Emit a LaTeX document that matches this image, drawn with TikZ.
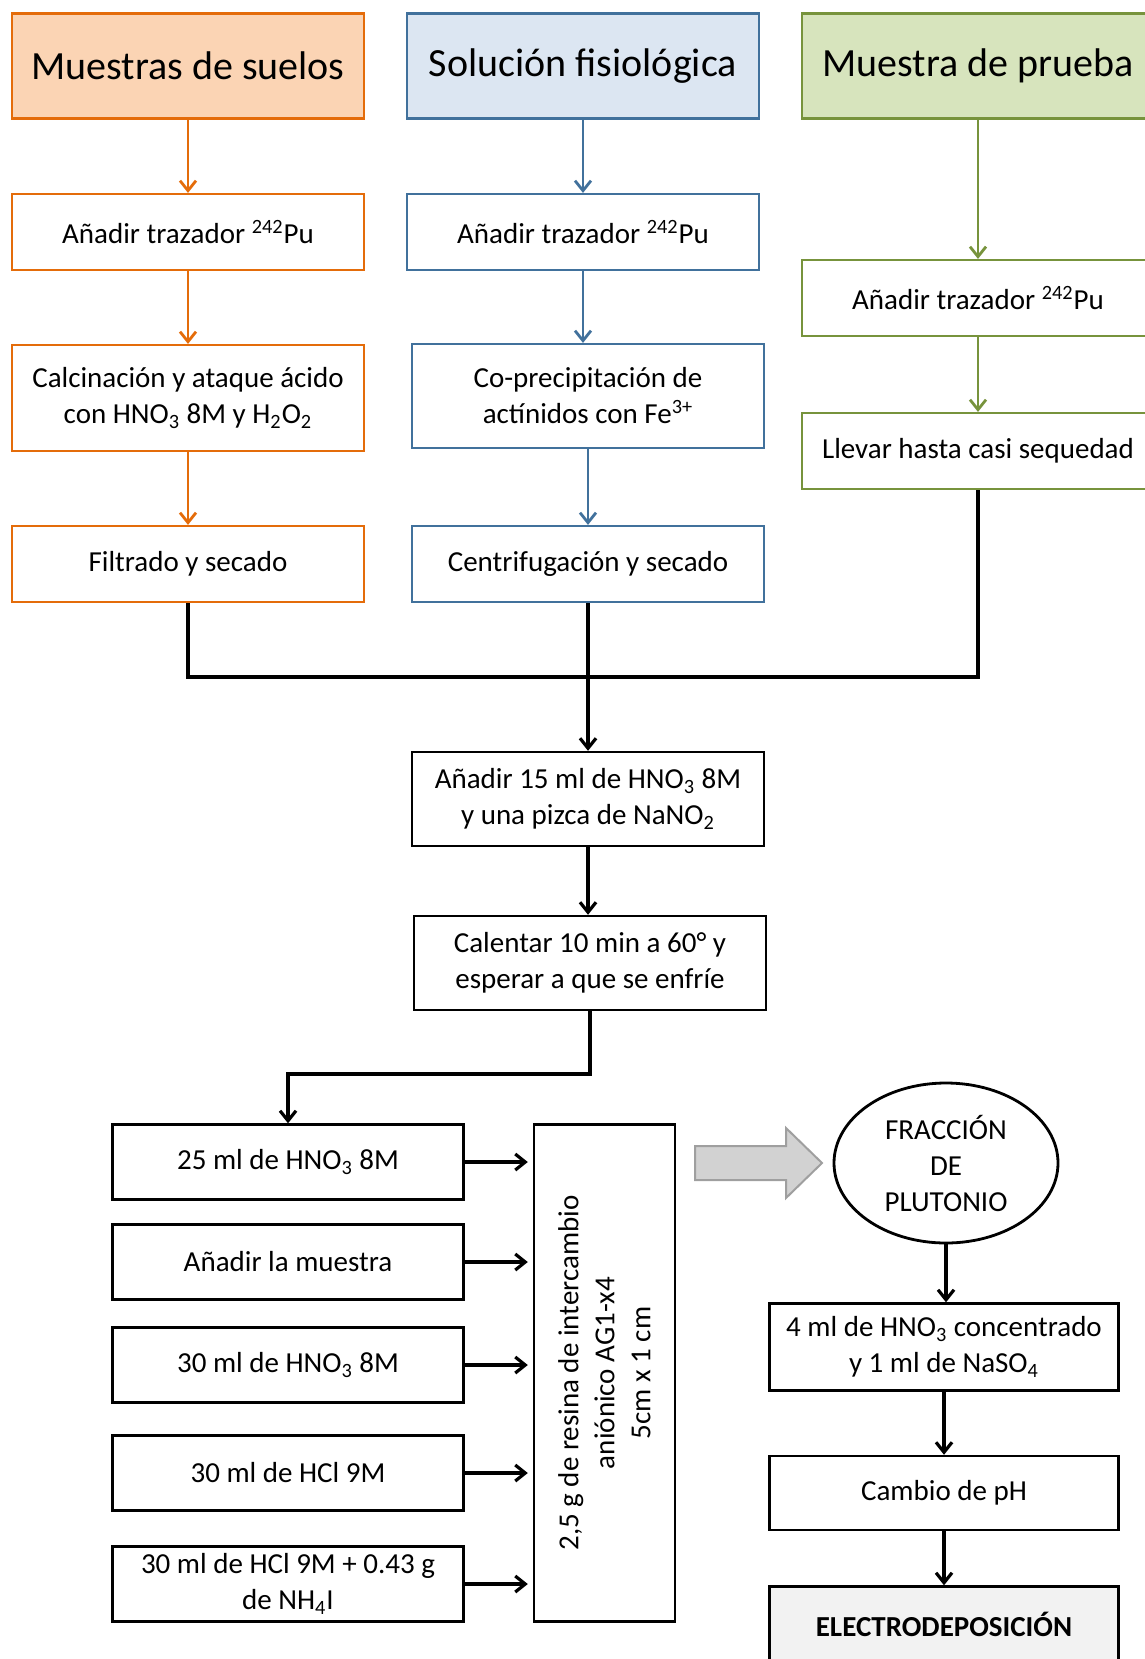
\documentclass[tikz,border=0pt]{standalone}
\usepackage{fontspec}
\setmainfont{Carlito}
\usetikzlibrary{shapes.geometric,arrows.meta}

\definecolor{naranja}{HTML}{E46C0A}
\definecolor{naranjaclaro}{HTML}{FBD4B4}
\definecolor{azul}{HTML}{41719C}
\definecolor{azulclaro}{HTML}{DCE6F2}
\definecolor{verde}{HTML}{77933C}
\definecolor{verdeclaro}{HTML}{D7E4BD}

\begin{document}
\begin{tikzpicture}[
                x=0.5pt, y=-0.5pt,
                every node/.style={align=center,font=\fontsize{14.5}{18}\selectfont},
                caja/.style={draw,line width=1.1pt,minimum width=176pt,minimum height=38pt},
                titulo/.style={caja,minimum height=52.5pt,font=\fontsize{20}{24}\selectfont},
                negra/.style={draw,line width=1.2pt,minimum width=175.5pt,minimum height=37.5pt},
                flecha/.style={-{Straight Barb[length=5pt,width=8pt]},line width=1.4pt},
                flechanegra/.style={-{Straight Barb[length=5pt,width=8pt]},line width=1.6pt}
            ]
            \useasboundingbox (0,0) rectangle (1145,1659);

            % columna suelos
            \node[titulo,draw=naranja,fill=naranjaclaro] (suelos) at (188,66) {Muestras de suelos};
            \node[caja,draw=naranja] (traz1) at (188,232) {Añadir trazador \textsuperscript{242}Pu};
            \node[caja,draw=naranja,minimum height=53pt] (calc) at (188,398)
                {Calcinación y ataque ácido\\con HNO\textsubscript{3} 8M y H\textsubscript{2}O\textsubscript{2}};
            \node[caja,draw=naranja] (filtrado) at (188,564) {Filtrado y secado};

            % columna solucion
            \node[titulo,draw=azul,fill=azulclaro] (fisio) at (583,66) {Solución fisiológica};
            \node[caja,draw=azul] (traz2) at (583,232) {Añadir trazador \textsuperscript{242}Pu};
            \node[caja,draw=azul,minimum height=52pt] (coprec) at (588,396)
                {Co-precipitación de\\actínidos con Fe\textsuperscript{3+}};
            \node[caja,draw=azul] (centrif) at (588,564) {Centrifugación y secado};

            % columna prueba
            \node[titulo,draw=verde,fill=verdeclaro] (prueba) at (978,66) {Muestra de prueba};
            \node[caja,draw=verde] (traz3) at (978,298) {Añadir trazador \textsuperscript{242}Pu};
            \node[caja,draw=verde] (llevar) at (978,451) {Llevar hasta casi sequedad};

            \draw[flecha,naranja] (suelos) -- (traz1);
            \draw[flecha,naranja] (traz1) -- (calc);
            \draw[flecha,naranja] (calc) -- (filtrado);
            \draw[flecha,azul] (fisio.south) -- (traz2.north);
            \draw[flecha,azul] (traz2.south) -- (traz2.south |- coprec.north);
            \draw[flecha,azul] (coprec) -- (centrif);
            \draw[flecha,verde] (prueba) -- (traz3);
            \draw[flecha,verde] (traz3) -- (llevar);

            % union
            \coordinate (unionIzq) at (188,677);
            \coordinate (unionDer) at (978,677);
            \draw[line width=1.6pt] (filtrado.south) -- (unionIzq) -- (unionDer) -- (llevar.south);

            \node[negra,minimum width=176pt,minimum height=47pt] (hno15) at (588,799)
                {Añadir 15 ml de HNO\textsubscript{3} 8M\\y una pizca de NaNO\textsubscript{2}};
            \node[negra,minimum width=176pt,minimum height=47pt] (calentar) at (590,963)
                {Calentar 10 min a 60° y\\esperar a que se enfríe};
            \draw[flechanegra] (centrif.south) -- (hno15.north);
            \draw[flechanegra] (hno15.south) -- (hno15.south |- calentar.north);

            % columna de resina
            \coordinate (codo) at (590,1074);
            \node[negra] (hno25) at (288,1162) {25 ml de HNO\textsubscript{3} 8M};
            \node[negra] (muestra) at (288,1262) {Añadir la muestra};
            \node[negra] (hno30) at (288,1365) {30 ml de HNO\textsubscript{3} 8M};
            \node[negra] (hcl) at (288,1473) {30 ml de HCl 9M};
            \node[negra] (hclnh) at (288,1584) {30 ml de HCl 9M + 0.43 g\\de NH\textsubscript{4}I};
            \node[draw,line width=1.2pt,rotate=90,minimum width=248.5pt,minimum height=70.5pt] (resina) at (604.5,1373)
                {2,5 g de resina de intercambio\\aniónico AG1-x4\\5cm x 1 cm};
            \draw[flechanegra] (calentar.south) -- (codo) -| (hno25.north);
            \foreach \paso in {hno25,muestra,hno30,hcl,hclnh}
                \draw[flechanegra,shorten >=2.5pt] (\paso.east) -- (\paso.east -| resina.north);

            % flecha gruesa
            \draw[line width=1pt,draw=gray!75,fill=gray!35]
                (695,1146) -- (786,1146) -- (786,1128) -- (822,1163)
                -- (786,1198) -- (786,1180) -- (695,1180) -- cycle;

            % plutonio
            \node[ellipse,draw,line width=1.4pt,minimum width=112pt,minimum height=80pt,inner sep=0pt] (fraccion) at (946,1163)
                {FRACCIÓN\\DE\\PLUTONIO};
            \node[negra,minimum width=174.5pt,minimum height=43.5pt] (hnoconc) at (944,1347)
                {4 ml de HNO\textsubscript{3} concentrado\\y 1 ml de NaSO\textsubscript{4}};
            \node[negra,minimum width=174.5pt,minimum height=37pt] (cambio) at (944,1493) {Cambio de pH};
            \node[negra,minimum width=174.5pt,minimum height=37.5pt,fill=gray!10,font=\fontsize{14.5}{18}\selectfont\bfseries] (electro) at (944,1624)
                {ELECTRODEPOSICIÓN};
            \draw[flechanegra] (fraccion.south) -- (fraccion.south |- hnoconc.north);
            \draw[flechanegra] (hnoconc) -- (cambio);
            \draw[flechanegra] (cambio) -- (electro);

        \end{tikzpicture}
\end{document}
